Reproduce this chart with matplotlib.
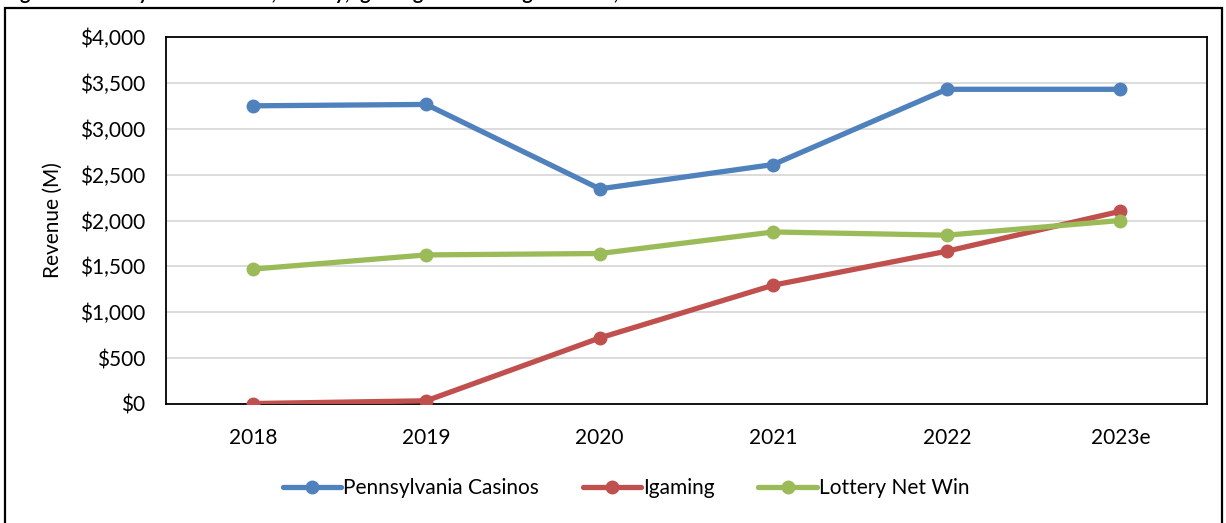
import matplotlib
matplotlib.use('Agg')
import matplotlib.pyplot as plt
from matplotlib.patches import Rectangle
from matplotlib.ticker import FuncFormatter

years = ['2018', '2019', '2020', '2021', '2022', '2023e']
casinos = [3250, 3265, 2345, 2610, 3430, 3430]
igaming = [5, 35, 720, 1295, 1665, 2100]
lottery = [1470, 1625, 1640, 1875, 1840, 2000]

series_names = ['Pennsylvania Casinos', 'Igaming', 'Lottery Net Win']
series_colors = ['#4F81BD', '#C0504D', '#9BBB59']

plt.rcParams['font.family'] = ['Lato', 'DejaVu Sans']
fs = 15

fig = plt.figure(figsize=(12.26, 5.23), dpi=100)
ax = fig.add_axes([166 / 1226, 1 - 404 / 523, (1207 - 166) / 1226, (404 - 37) / 523])

x = list(range(len(years)))
for vals, name, col in zip([casinos, igaming, lottery], series_names, series_colors):
    ax.plot(x, vals, color=col, lw=3.8, marker='o', ms=9, label=name,
            solid_capstyle='round', zorder=3)

ax.set_xlim(-0.5, len(years) - 0.5)
ax.set_ylim(0, 4000)
ax.set_yticks(range(0, 4001, 500))
ax.yaxis.set_major_formatter(FuncFormatter(lambda v, p: '${:,.0f}'.format(v)))
ax.set_xticks(x)
ax.set_xticklabels(years)
ax.tick_params(axis='both', length=0, labelsize=fs, colors='black')
ax.tick_params(axis='y', pad=15)
ax.tick_params(axis='x', pad=17)
ax.grid(axis='y', color='#d9d9d9', lw=1.3, zorder=0)
for s in ax.spines.values():
    s.set_color('black')
    s.set_linewidth(1.3)
ax.set_ylabel('Revenue (M)', fontsize=fs, labelpad=12)

ax.legend(loc='center', bbox_to_anchor=(626 / 1226, 1 - 488 / 523),
          bbox_transform=fig.transFigure, ncol=3, frameon=False, fontsize=fs,
          handlelength=2.8, handletextpad=0.1, columnspacing=2.1)

# outer chart border
fig.patches.append(Rectangle((5 / 1226, -0.05), (1222 - 5) / 1226, 1.05 - 8 / 523,
                             transform=fig.transFigure, fill=False, ec='black', lw=1.6))

# title, cut off at the top of the image as in the source
fig.text(4 / 1226, 1 - 3 / 523,
         'Figure 5: Pennsylvania Casinos, Lottery, Igaming Net Gaming Revenue, 2018-2023e',
         fontsize=14, fontweight='bold', va='bottom', ha='left')

fig.savefig('out.png', dpi=100)
